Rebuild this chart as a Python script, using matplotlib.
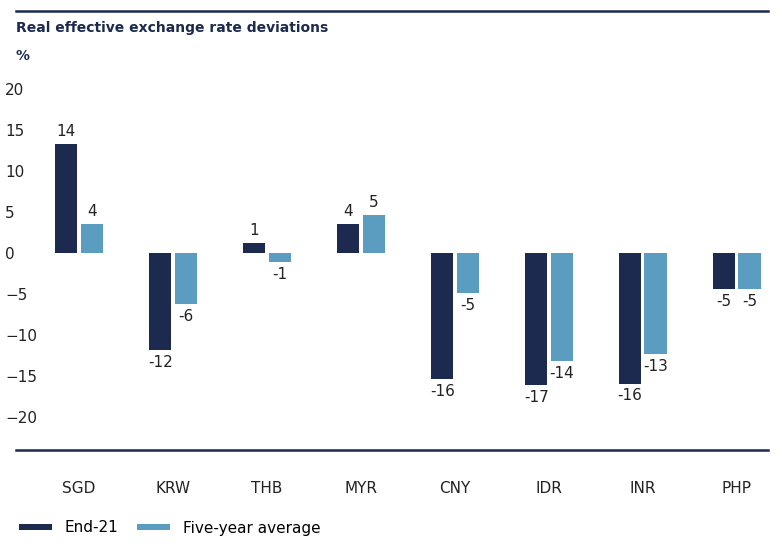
import matplotlib.pyplot as plt
from matplotlib.lines import Line2D
import numpy as np

categories = ["SGD", "KRW", "THB", "MYR", "CNY", "IDR", "INR", "PHP"]
end21 = [13.3, -11.8, 1.2, 3.5, -15.4, -16.1, -15.9, -4.4]
five_year = [3.5, -6.2, -1.1, 4.6, -4.9, -13.2, -12.3, -4.4]
end21_labels = ["14", "-12", "1", "4", "-16", "-17", "-16", "-5"]
five_labels = ["4", "-6", "-1", "5", "-5", "-14", "-13", "-5"]

navy = "#1b2a4e"
light = "#5b9dc0"

W, H = 783, 550
fig = plt.figure(figsize=(W / 100, H / 100), dpi=100)
ax = fig.add_axes([40 / W, 1 - 450 / H, 725 / W, 403 / H])

x = np.arange(len(categories))
w = 0.235
off = 0.135
ax.bar(x - off, end21, w, color=navy, label="End-21")
ax.bar(x + off, five_year, w, color=light, label="Five-year average")

for xi, v, t in zip(x - off, end21, end21_labels):
    ax.text(xi, v + (0.6 if v >= 0 else -0.6), t, ha="center",
            va="bottom" if v >= 0 else "top", fontsize=11, color="#222222")
for xi, v, t in zip(x + off, five_year, five_labels):
    ax.text(xi, v + (0.6 if v >= 0 else -0.6), t, ha="center",
            va="bottom" if v >= 0 else "top", fontsize=11, color="#222222")

ax.set_xlim(-0.415, 7.3)
ax.set_ylim(-24.0, 25.1)
ax.set_yticks(range(-20, 21, 5))
ax.set_xticks(x)
ax.set_xticklabels(categories)
ax.tick_params(axis="both", length=0, labelsize=11, colors="#222222")
ax.tick_params(axis="x", pad=22)
ax.tick_params(axis="y", pad=25)
for lab in ax.get_yticklabels():
    lab.set_horizontalalignment("left")
for s in ["left", "right", "top", "bottom"]:
    ax.spines[s].set_visible(False)

# horizontal rules across the whole chart
for yp in (11, 450):
    fig.add_artist(Line2D([16 / W, 768 / W], [1 - yp / H, 1 - yp / H],
                          color=navy, linewidth=1.8))

fig.text(16 / W, 1 - 28 / H, "Real effective exchange rate deviations",
         fontsize=10, fontweight="bold", color=navy, va="center")
fig.text(16 / W, 1 - 56 / H, "%", fontsize=10, fontweight="bold",
         color=navy, va="center")

fig.legend(loc="center left", bbox_to_anchor=(5 / W, 1 - 528 / H), ncol=2,
           frameon=False, fontsize=11, handlelength=2.2, handleheight=0.25,
           columnspacing=1.2)

fig.savefig("out.png", dpi=100)
